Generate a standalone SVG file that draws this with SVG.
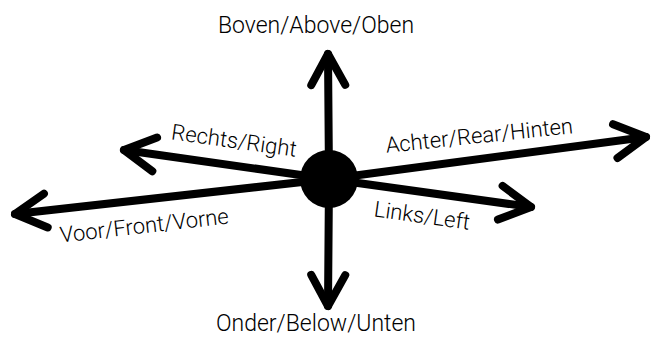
<svg xmlns="http://www.w3.org/2000/svg" width="657" height="338" viewBox="0 0 657 338">
<style>
.ax{stroke:#000;stroke-width:8;fill:none;stroke-linecap:round;marker-end:url(#ah)}
.lb{font-family:Roboto,"Liberation Sans",sans-serif;font-weight:300;font-size:22px;fill:#000}
.lg{font-size:23px}
</style>
<defs>
<marker id="ah" markerUnits="userSpaceOnUse" orient="auto" refX="0" refY="0" markerWidth="10" markerHeight="10" overflow="visible">
<path d="M -31 -17 L 0 0 L -31 17" fill="none" stroke="#000" stroke-width="8" stroke-linecap="round" stroke-linejoin="round"/>
</marker>
</defs>
<rect width="657" height="338" fill="#fff"/>
<g id="connectors">
<line class="ax" x1="329" y1="179" x2="328" y2="54"/>
<line class="ax" x1="329" y1="179" x2="328" y2="306"/>
<line class="ax" x1="329" y1="179" x2="124" y2="150"/>
<line class="ax" x1="329" y1="179" x2="15" y2="214"/>
<line class="ax" x1="329" y1="179" x2="646" y2="137"/>
<line class="ax" x1="329" y1="179" x2="531" y2="207"/>
</g>
<g id="center"><circle cx="329" cy="179" r="29" fill="#000"/></g>
<g id="above"><text class="lb lg" x="316" y="33" text-anchor="middle">Boven/Above/Oben</text></g>
<g id="below"><text class="lb lg" x="316" y="331" text-anchor="middle">Onder/Below/Unten</text></g>
<g id="right"><text class="lb" text-anchor="middle" transform="translate(233,148) rotate(8)">Rechts/Right</text></g>
<g id="front"><text class="lb" text-anchor="middle" transform="translate(145,233) rotate(-6.5)">Voor/Front/Vorne</text></g>
<g id="rear"><text class="lb" text-anchor="middle" transform="translate(480,143) rotate(-6)">Achter/Rear/Hinten</text></g>
<g id="left"><text class="lb" text-anchor="middle" transform="translate(421,223) rotate(8)">Links/Left</text></g>
</svg>
